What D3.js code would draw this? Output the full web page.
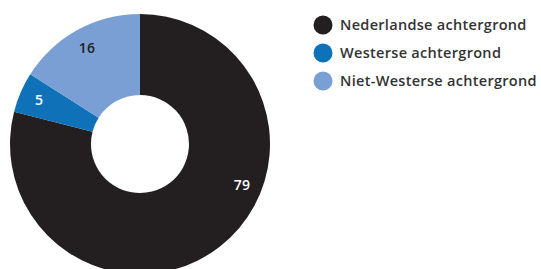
<!DOCTYPE html>
<html>
<head>
<meta charset="utf-8">
<script src="https://cdn.jsdelivr.net/npm/d3@7"></script>
<style>
  body { margin: 0; background: #fff; }
  svg { display: block; font-family: "Open Sans", sans-serif; }
</style>
</head>
<body>
<div id="chart"></div>
<script>
// data
const categories = ['Nederlandse achtergrond', 'Westerse achtergrond', 'Niet-Westerse achtergrond'];
const values = [79, 5, 16];
const colors = ['#231f20', '#0f72b9', '#7a9fd4'];
const labelColors = ['#ffffff', '#ffffff', '#231f20'];

const width = 541, height = 269;
const cx = 140, cy = 144;
const outerR = 130, innerR = 49, labelR = 110;

const svg = d3.select('#chart').append('svg')
  .attr('width', width)
  .attr('height', height);

const pie = d3.pie().sort(null).value(d => d.value);
const arcs = pie(values.map((v, i) => ({ value: v, i })));

const arc = d3.arc().innerRadius(innerR).outerRadius(outerR);

const g = svg.append('g').attr('transform', `translate(${cx},${cy})`);

g.selectAll('path.slice')
  .data(arcs)
  .join('path')
  .attr('class', 'slice')
  .attr('d', arc)
  .attr('fill', d => colors[d.data.i]);

// label angle: mid angle, but the big slice gets its label nearer the right side
function labelAngle(d) {
  const mid = (d.startAngle + d.endAngle) / 2;
  if (d.endAngle - d.startAngle > Math.PI) return d.startAngle + (d.endAngle - d.startAngle) * 0.394;
  return mid;
}

g.selectAll('text.val')
  .data(arcs)
  .join('text')
  .attr('class', 'val')
  .attr('x', d => Math.sin(labelAngle(d)) * labelR)
  .attr('y', d => -Math.cos(labelAngle(d)) * labelR)
  .attr('dy', '0.35em')
  .attr('text-anchor', 'middle')
  .attr('font-size', 14)
  .attr('font-weight', 600)
  .attr('letter-spacing', 0.3)
  .attr('fill', d => labelColors[d.data.i])
  .text(d => d.data.value);

// legend
const legend = svg.append('g').attr('transform', 'translate(323,25)');
const item = legend.selectAll('g')
  .data(categories)
  .join('g')
  .attr('transform', (d, i) => `translate(0,${i * 28})`);

item.append('circle')
  .attr('r', 9.5)
  .attr('fill', (d, i) => colors[i]);

item.append('text')
  .attr('x', 17)
  .attr('dy', '0.35em')
  .attr('font-size', 14.5)
  .attr('font-weight', 600)
  .attr('letter-spacing', 0.3)
  .attr('fill', '#333')
  .text(d => d);
</script>
</body>
</html>
